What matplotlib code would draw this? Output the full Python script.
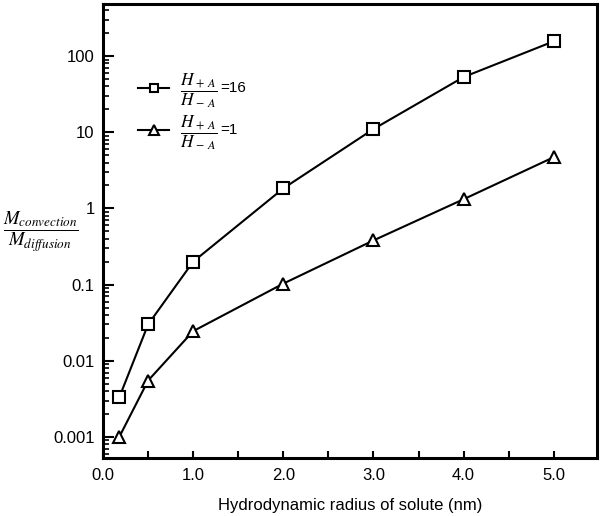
import matplotlib
matplotlib.use("Agg")
import matplotlib.pyplot as plt
from matplotlib.ticker import LogLocator, FixedLocator, NullFormatter, FixedFormatter

plt.rcParams['font.family'] = ['Liberation Sans', 'DejaVu Sans']
plt.rcParams['mathtext.fontset'] = 'stix'

radius = [0.18, 0.5, 1.0, 2.0, 3.0, 4.0, 5.0]
ratio16 = [0.0033, 0.030, 0.20, 1.83, 11.0, 53.0, 156.0]
ratio1 = [0.001, 0.0055, 0.0245, 0.103, 0.38, 1.32, 4.7]
series_values = ['=16', '=1']
xticks = [0.0, 1.0, 2.0, 3.0, 4.0, 5.0]
xtick_labels = ['0.0', '1.0', '2.0', '3.0', '4.0', '5.0']
yticks = [0.001, 0.01, 0.1, 1, 10, 100]
ytick_labels = ['0.001', '0.01', '0.1', '1', '10', '100']

fig = plt.figure(figsize=(6, 5.16), dpi=100)
ax = fig.add_axes([0.1717, 0.1124, 0.8233, 0.8796])

frac = r'$\dfrac{H_{\,+\,A}}{H_{\,-\,A}}$'
ax.plot(radius, ratio16, '-', color='black', lw=1.5, marker='s', ms=8,
        mfc='white', mec='black', mew=1.5, label=frac)
ax.plot(radius, ratio1, '-', color='black', lw=1.5, marker='^', ms=9,
        mfc='white', mec='black', mew=1.5, label=frac)

ax.set_yscale('log')
ax.set_xlim(0, 5.48)
ax.set_ylim(5.3e-4, 480)

ax.xaxis.set_major_locator(FixedLocator(xticks))
ax.xaxis.set_major_formatter(FixedFormatter(xtick_labels))
ax.xaxis.set_minor_locator(FixedLocator([0.5, 1.5, 2.5, 3.5, 4.5]))
ax.yaxis.set_major_locator(FixedLocator(yticks))
ax.yaxis.set_major_formatter(FixedFormatter(ytick_labels))
ax.yaxis.set_minor_locator(LogLocator(base=10, subs=range(2, 10), numticks=20))
ax.yaxis.set_minor_formatter(NullFormatter())

ax.tick_params(axis='both', which='both', direction='in', top=False, right=False,
               labelsize=12, width=1.5, colors='black')
ax.tick_params(axis='y', which='major', length=8, pad=6)
ax.tick_params(axis='y', which='minor', length=4.5, width=1.2)
ax.tick_params(axis='x', which='both', length=5)
ax.tick_params(axis='x', pad=7)

for s in ax.spines.values():
    s.set_linewidth(2.2)

ax.set_xlabel('Hydrodynamic radius of solute (nm)', fontsize=12, labelpad=11)
fig.text(0.068, 0.55, r'$\dfrac{M_{convection}}{M_{diffusion}}$', fontsize=13.5,
         ha='center', va='center')

leg = ax.legend(loc='upper left', bbox_to_anchor=(0.057, 0.868), frameon=False,
                fontsize=12.5, handlelength=1.78, numpoints=1, labelspacing=0.18,
                handletextpad=0.65, borderaxespad=0.0, markerscale=0.75)

fig.canvas.draw()
inv = fig.transFigure.inverted()
for t, s in zip(leg.get_texts(), series_values):
    bb = t.get_window_extent()
    x0, y0 = inv.transform((bb.x1 + 2, (bb.y0 + bb.y1) / 2 + 2))
    fig.text(x0, y0, s, fontsize=11, ha='left', va='center')

fig.savefig('out.png', dpi=100)
